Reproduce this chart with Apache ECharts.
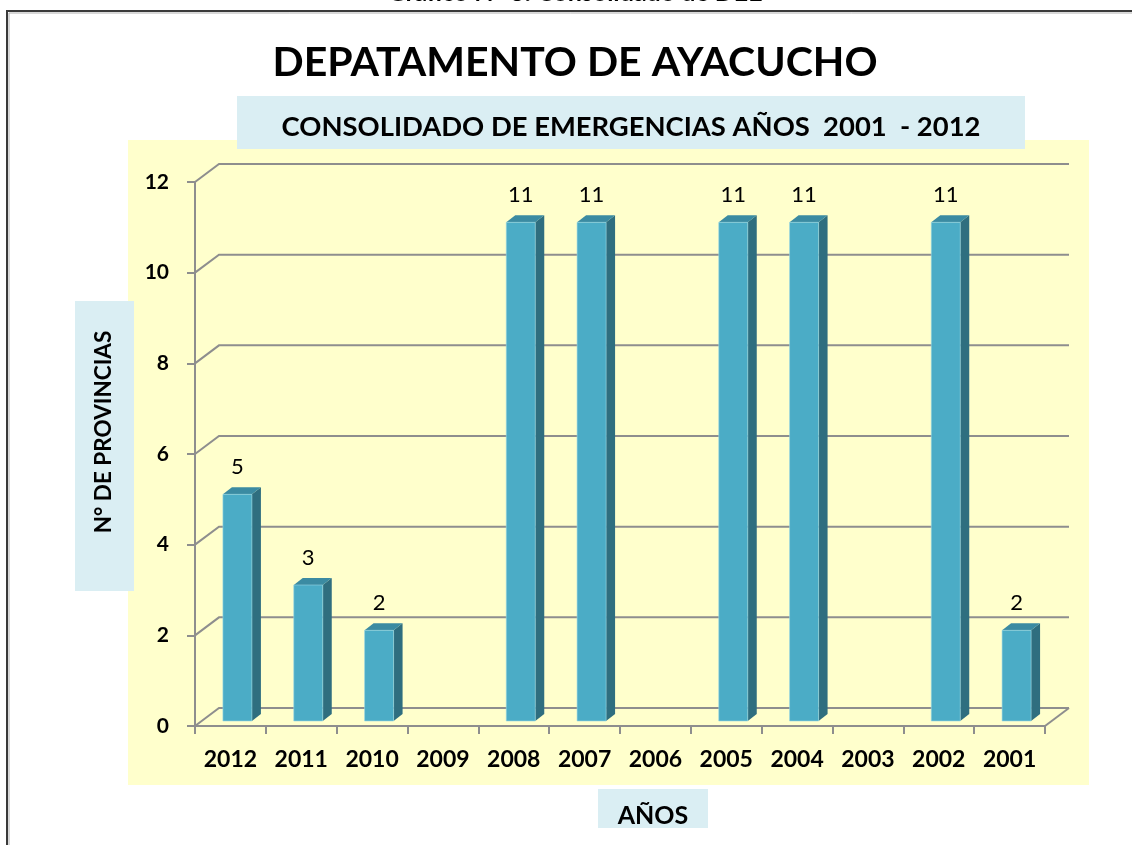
<!DOCTYPE html>
<html>
<head>
<meta charset="utf-8">
<script src="https://cdn.jsdelivr.net/npm/echarts@6/dist/echarts.min.js"></script>
<style>
html,body{margin:0;padding:0;background:#fff;}
#c{width:1132px;height:845px;}
</style>
</head>
<body>
<div id="c"></div>
<script>
const categories = ['2012','2011','2010','2009','2008','2007','2006','2005','2004','2003','2002','2001'];
const values = [5, 3, 2, null, 11, 11, null, 11, 11, null, 11, 2];
const yTicks = [0, 2, 4, 6, 8, 10, 12];
const titleText = 'DEPATAMENTO DE AYACUCHO';
const subtitleText = 'CONSOLIDADO DE EMERGENCIAS AÑOS  2001  - 2012';
const topText = 'Gráfico N° 3: Consolidado de DEE';
const yName = 'N° DE PROVINCIAS';
const xName = 'AÑOS';

const FONT = 'Lato, "Open Sans", sans-serif';
const GRID_COLOR = '#8E8E8E';
const DX = 24, DY = -18;          // depth of back wall
const BX = 7, BY = -5;            // bar placement inside depth
const SX = 9, SY = -7;            // bar depth
const BAR_W = 29;

const chart = echarts.init(document.getElementById('c'), null, {renderer: 'canvas'});

const wallData = yTicks.map(v => [0, v]);
const barData = values.map((v, i) => [i, v == null ? '-' : v]);

const option = {
  backgroundColor: '#ffffff',
  animation: false,
  graphic: [
    {type: 'rect', shape: {x: 128, y: 140, width: 961, height: 645}, style: {fill: '#FFFFCC'}, z: -10},
    {type: 'rect', shape: {x: 237, y: 96, width: 788, height: 53}, style: {fill: '#DAEEF3'}, z: -9},
    {type: 'rect', shape: {x: 75, y: 301, width: 59, height: 290}, style: {fill: '#DAEEF3'}, z: -9},
    {type: 'rect', shape: {x: 598, y: 789, width: 110, height: 39}, style: {fill: '#DAEEF3'}, z: -9},
    {type: 'polyline', shape: {points: [[7, 845], [7, 11], [1132, 11]]}, style: {stroke: '#3a3a3a', lineWidth: 2, fill: null}, z: 5},
    {type: 'polyline', shape: {points: [[9, 845], [9, 13], [1132, 13]]}, style: {stroke: '#b0b0b0', lineWidth: 1, fill: null}, z: 5},
    {type: 'text', x: 575, y: -7, style: {text: topText, font: 'bold 25px ' + FONT, fill: '#000', align: 'center', verticalAlign: 'middle'}, z: 6},
    {type: 'text', x: 575, y: 63, style: {text: titleText, font: 'bold 41px ' + FONT, fill: '#000', align: 'center', verticalAlign: 'middle'}, z: 6},
    {type: 'text', x: 631, y: 127, style: {text: subtitleText, font: 'bold 27.4px ' + FONT, fill: '#000', align: 'center', verticalAlign: 'middle'}, z: 6},
    {type: 'text', x: 104, y: 432, rotation: Math.PI / 2, style: {text: yName, font: 'bold 22.5px ' + FONT, fill: '#000', align: 'center', verticalAlign: 'middle'}, z: 6},
    {type: 'text', x: 653, y: 816, style: {text: xName, font: 'bold 25px ' + FONT, fill: '#000', align: 'center', verticalAlign: 'middle'}, z: 6}
  ],
  grid: {left: 195, right: 87, top: 182, bottom: 119, containLabel: false},
  xAxis: {
    type: 'category',
    data: categories,
    boundaryGap: true,
    axisLine: {show: true, lineStyle: {color: GRID_COLOR, width: 2}},
    axisTick: {show: true, alignWithLabel: false, length: 8, lineStyle: {color: GRID_COLOR, width: 2}},
    axisLabel: {show: true, interval: 0, margin: 22, color: '#000', fontFamily: FONT, fontWeight: 'bold', fontSize: 23},
    splitLine: {show: false}
  },
  yAxis: {
    type: 'value',
    min: 0, max: 12, interval: 2,
    axisLine: {show: true, lineStyle: {color: GRID_COLOR, width: 2}},
    axisTick: {show: true, length: 8, lineStyle: {color: GRID_COLOR, width: 2}},
    axisLabel: {show: true, margin: 26, color: '#000', fontFamily: FONT, fontWeight: 'bold', fontSize: 21},
    splitLine: {show: false}
  },
  series: [
    {
      type: 'custom',
      name: 'wall',
      z: 1,
      silent: true,
      data: wallData,
      renderItem: function (params, api) {
        const v = api.value(1);
        const p = api.coord([0, v]);
        const half = api.size([1, 0])[0] / 2;
        const pr = api.coord([categories.length - 1, v]);
        const x0 = p[0] - half, x1 = pr[0] + half, y = p[1];
        const children = [{
          type: 'polyline',
          shape: {points: [[x0, y], [x0 + DX, y + DY], [x1 + DX, y + DY]]},
          style: {stroke: GRID_COLOR, lineWidth: 2, fill: null}
        }];
        if (v === 0) {
          children.push({
            type: 'line',
            shape: {x1: x1, y1: y, x2: x1 + DX, y2: y + DY},
            style: {stroke: GRID_COLOR, lineWidth: 2}
          });
        }
        return {type: 'group', children: children};
      }
    },
    {
      type: 'custom',
      name: 'bars',
      z: 3,
      data: barData,
      renderItem: function (params, api) {
        const v = api.value(1);
        if (v == null || isNaN(v)) return null;
        const base = api.coord([api.value(0), 0]);
        const top = api.coord([api.value(0), v]);
        const cx = base[0] + BX;
        const xl = cx - BAR_W / 2, xr = cx + BAR_W / 2;
        const yb = base[1] + BY, yt = top[1] + BY;
        return {
          type: 'group',
          children: [
            {type: 'polygon', shape: {points: [[xr, yb], [xr + SX, yb + SY], [xr + SX, yt + SY], [xr, yt]]}, style: {fill: '#2F6E7F'}},
            {type: 'polygon', shape: {points: [[xl, yt], [xr, yt], [xr + SX, yt + SY], [xl + SX, yt + SY]]}, style: {fill: '#3B8BA2'}},
            {type: 'rect', shape: {x: xl, y: yt, width: BAR_W, height: yb - yt}, style: {fill: '#4BACC6', stroke: '#9ad6e4', lineWidth: 0.6}},
            {type: 'text', x: cx, y: yt - 27, style: {text: String(v), font: '22px ' + FONT, fill: '#000', align: 'center', verticalAlign: 'middle'}}
          ]
        };
      }
    }
  ]
};
chart.setOption(option);
</script>
</body>
</html>
